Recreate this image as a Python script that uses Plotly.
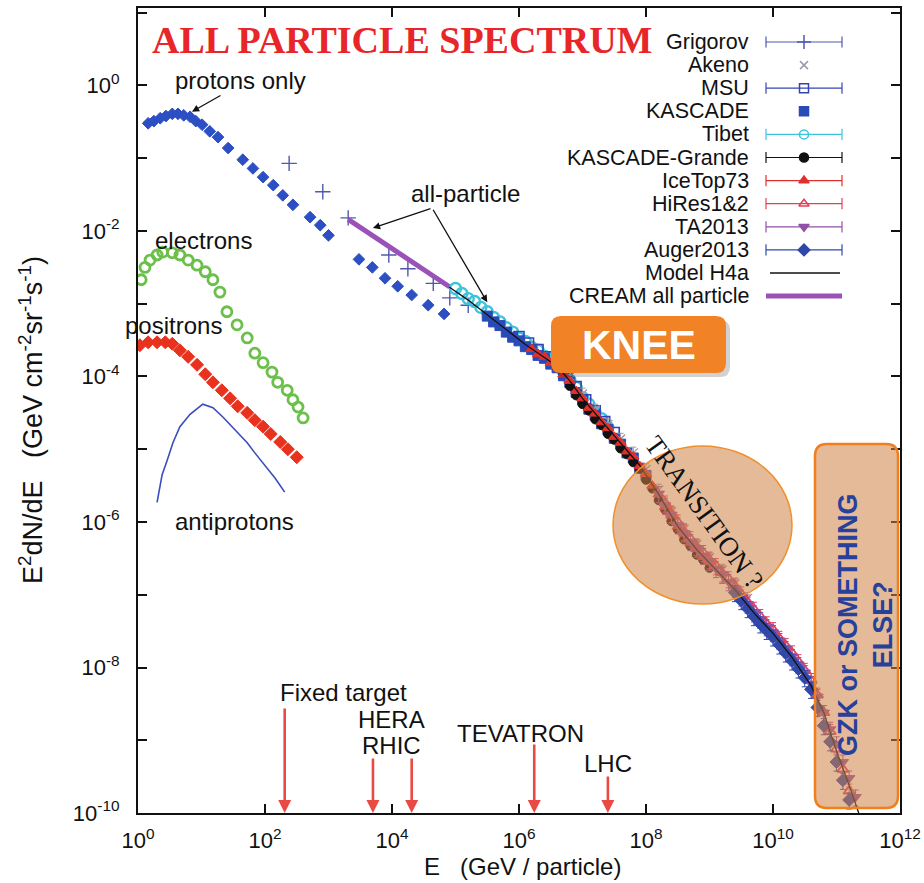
import numpy as np
import plotly.graph_objects as go

# ---------------------------------------------------------------------------
# Spectra, stored as log10(E / GeV) and log10(E^2 dN/dE / GeV cm^-2 sr^-1 s^-1)
# ---------------------------------------------------------------------------
proton_logE = [0.16, 0.25, 0.35, 0.44, 0.54, 0.63, 0.72, 0.82, 0.91, 1.01, 1.13, 1.26,
               1.42, 1.65, 1.81, 1.97, 2.13, 2.28, 2.44, 2.71, 2.87, 3.00, 3.48, 3.69,
               3.89, 4.09, 4.31, 4.57, 4.82]
proton_logF = [-0.52, -0.49, -0.45, -0.42, -0.39, -0.39, -0.41, -0.43, -0.49, -0.54, -0.63, -0.71,
               -0.86, -1.02, -1.14, -1.26, -1.37, -1.51, -1.64, -1.81, -1.92, -2.06, -2.39, -2.50,
               -2.65, -2.76, -2.88, -3.02, -3.14]

electron_logE = [0.05, 0.11, 0.19, 0.30, 0.39, 0.54, 0.66, 0.79, 0.93, 1.06, 1.18, 1.29,
                 1.40, 1.56, 1.72, 1.84, 1.97, 2.11, 2.20, 2.35, 2.44, 2.52, 2.60]
electron_logF = [-2.67, -2.50, -2.40, -2.33, -2.29, -2.30, -2.33, -2.40, -2.47, -2.56, -2.67, -2.84,
                 -3.11, -3.29, -3.47, -3.68, -3.81, -3.94, -4.08, -4.19, -4.32, -4.42, -4.57]

positron_logE = [0.03, 0.16, 0.30, 0.43, 0.54, 0.66, 0.79, 0.93, 1.06, 1.18, 1.32, 1.45,
                 1.57, 1.72, 1.84, 1.97, 2.09, 2.24, 2.36, 2.50]
positron_logF = [-3.57, -3.53, -3.53, -3.53, -3.55, -3.64, -3.73, -3.84, -3.97, -4.08, -4.19, -4.30,
                 -4.41, -4.50, -4.60, -4.69, -4.79, -4.90, -5.00, -5.11]

antiproton_logE = [0.30, 0.38, 0.46, 0.55, 0.66, 0.82, 1.02, 1.18, 1.34, 1.53, 1.72, 1.84,
                   1.97, 2.16, 2.31]
antiproton_logF = [-5.73, -5.35, -5.15, -4.91, -4.69, -4.52, -4.38, -4.43, -4.56, -4.74, -4.91, -5.05,
                   -5.19, -5.40, -5.59]

grigorov_logE = [2.38, 2.91, 3.31, 3.95, 4.25, 4.65, 4.91, 5.20]
grigorov_logF = [-1.07, -1.46, -1.82, -2.33, -2.52, -2.72, -2.92, -3.02]

cream_logE = [3.31, 3.60, 3.90, 4.20, 4.50, 4.91]
cream_logF = [-1.84, -2.01, -2.18, -2.36, -2.53, -2.77]

tibet_logE = [5.0, 5.1, 5.2, 5.3, 5.4, 5.5, 5.6, 5.7, 5.8, 5.9, 6.0, 6.1, 6.2, 6.3, 6.4,
              6.5, 6.6, 6.7, 6.8, 6.9, 7.0, 7.1, 7.2, 7.3, 7.4]
tibet_logF = [-2.79, -2.86, -2.93, -2.97, -3.05, -3.11, -3.19, -3.25, -3.33, -3.39, -3.47, -3.52,
              -3.60, -3.64, -3.72, -3.76, -3.85, -3.92, -4.05, -4.15, -4.29, -4.38, -4.50, -4.58, -4.70]

kascade_logE = [5.5, 5.6, 5.7, 5.8, 5.9, 6.0, 6.1, 6.2, 6.3, 6.4, 6.5, 6.6, 6.7, 6.8, 6.9,
                7.0, 7.1, 7.2, 7.3, 7.4, 7.5, 7.6, 7.7, 7.8, 7.9, 8.0]
kascade_logF = [-3.17, -3.25, -3.30, -3.39, -3.46, -3.51, -3.59, -3.63, -3.71, -3.75, -3.83, -3.88,
                -3.99, -4.08, -4.22, -4.32, -4.45, -4.53, -4.65, -4.73, -4.85, -4.93, -5.05, -5.12,
                -5.26, -5.36]

msu_logE = [6.0, 6.15, 6.3, 6.45, 6.6, 6.75, 6.9, 7.05, 7.2, 7.35, 7.5]
msu_logF = [-3.45, -3.54, -3.63, -3.73, -3.82, -3.97, -4.14, -4.32, -4.47, -4.62, -4.77]

akeno_logE = [6.6, 6.8, 7.0, 7.2, 7.4, 7.6, 7.8, 8.0, 8.2, 8.4, 8.6, 8.8, 9.0, 9.2, 9.4, 9.6]
akeno_logF = [-3.80, -4.00, -4.24, -4.46, -4.66, -4.86, -5.05, -5.28, -5.56, -5.86, -6.10, -6.31,
              -6.49, -6.66, -6.85, -7.05]

grande_logE = [6.8, 6.9, 7.0, 7.1, 7.2, 7.3, 7.4, 7.5, 7.6, 7.7, 7.8, 7.9, 8.0, 8.1, 8.2,
               8.3, 8.4, 8.5, 8.6, 8.7, 8.8, 8.9, 9.0]
grande_logF = [-4.13, -4.26, -4.38, -4.47, -4.59, -4.67, -4.79, -4.87, -4.99, -5.07, -5.18, -5.27,
               -5.42, -5.54, -5.70, -5.83, -5.99, -6.10, -6.24, -6.33, -6.45, -6.52, -6.63]

icetop_logE = [6.2, 6.3, 6.4, 6.5, 6.6, 6.7, 6.8, 6.9, 7.0, 7.1, 7.2, 7.3, 7.4, 7.5, 7.6,
               7.7, 7.8, 7.9, 8.0, 8.1, 8.2, 8.3, 8.4, 8.5, 8.6, 8.7, 8.8, 8.9, 9.0]
icetop_logF = [-3.62, -3.69, -3.73, -3.81, -3.86, -3.97, -4.06, -4.20, -4.30, -4.43, -4.51, -4.63,
               -4.71, -4.83, -4.91, -5.03, -5.10, -5.23, -5.34, -5.50, -5.62, -5.79, -5.91, -6.06,
               -6.16, -6.29, -6.37, -6.48, -6.55]

hires_logE = [8.3, 8.4, 8.5, 8.6, 8.7, 8.8, 8.9, 9.0, 9.1, 9.2, 9.3, 9.4, 9.5, 9.6, 9.7,
              9.8, 9.9, 10.0, 10.1, 10.2, 10.3, 10.4, 10.5, 10.6, 10.7, 10.8, 10.9, 11.0, 11.1, 11.2]
hires_logF = [-5.74, -5.88, -6.00, -6.13, -6.23, -6.34, -6.42, -6.52, -6.60, -6.70, -6.78, -6.88,
              -6.99, -7.10, -7.20, -7.30, -7.40, -7.48, -7.60, -7.70, -7.80, -7.92, -8.04, -8.18,
              -8.38, -8.62, -8.88, -9.12, -9.40, -9.70]

ta_logE = [8.2, 8.3, 8.4, 8.5, 8.6, 8.7, 8.8, 8.9, 9.0, 9.1, 9.2, 9.3, 9.4, 9.5, 9.6, 9.7,
           9.8, 9.9, 10.0, 10.1, 10.2, 10.3, 10.4, 10.5, 10.6, 10.7, 10.8, 10.9, 11.0, 11.1, 11.2, 11.3]
ta_logF = [-5.61, -5.77, -5.90, -6.04, -6.15, -6.27, -6.36, -6.46, -6.54, -6.64, -6.72, -6.82,
           -6.91, -7.03, -7.13, -7.25, -7.34, -7.44, -7.52, -7.63, -7.74, -7.85, -7.96, -8.07,
           -8.22, -8.40, -8.62, -8.85, -9.05, -9.30, -9.52, -9.78]

auger_logE = [9.4, 9.5, 9.6, 9.7, 9.8, 9.9, 10.0, 10.1, 10.2, 10.3, 10.4, 10.5, 10.6, 10.7,
              10.8, 10.9, 11.0, 11.1, 11.2]
auger_logF = [-6.97, -7.08, -7.19, -7.30, -7.40, -7.49, -7.58, -7.69, -7.80, -7.91, -8.02, -8.14,
              -8.30, -8.55, -8.80, -9.02, -9.30, -9.55, -9.82]

h4a_logE = [4.9, 5.2, 5.5, 5.8, 6.1, 6.4, 6.6, 6.8, 7.0, 7.3, 7.6, 7.9, 8.2, 8.5, 8.8, 9.1,
            9.4, 9.7, 10.0, 10.3, 10.6, 10.8, 11.0, 11.2, 11.35]
h4a_logF = [-2.77, -2.95, -3.15, -3.36, -3.56, -3.74, -3.86, -4.06, -4.30, -4.61, -4.92, -5.22,
            -5.62, -6.06, -6.38, -6.65, -6.93, -7.25, -7.53, -7.86, -8.25, -8.62, -9.15, -9.62, -10.0]

# Accelerator reach (equivalent fixed-target energy)
accel_names = ["Fixed target", "HERA", "RHIC", "TEVATRON", "LHC"]
accel_logE = [2.31, 3.70, 4.31, 6.24, 7.40]

legend_names = ["Grigorov", "Akeno", "MSU", "KASCADE", "Tibet", "KASCADE-Grande",
                "IceTop73", "HiRes1&2", "TA2013", "Auger2013", "Model H4a", "CREAM all particle"]

x_tick_exp = [0, 2, 4, 6, 8, 10, 12]
y_tick_exp = list(range(-10, 2))

# ---------------------------------------------------------------------------
W, H = 924, 883
ML, MR, MT, MB = 138, 24, 8, 70
PW, PH = W - ML - MR, H - MT - MB


def px(x):
    return (x - ML) / PW


def py(y):
    return (H - MB - y) / PH


def pw(v):
    return 10 ** np.asarray(v, dtype=float)


FONT = "Liberation Sans, Arial, Helvetica, sans-serif"
SERIF = "Liberation Serif, Times New Roman, serif"

fig = go.Figure()


def add_series(logE, logF, color, symbol, size, lw=1.0, err=None, opacity=1.0):
    e = None
    if err is not None:
        e = dict(type="percent", value=err, color=color, thickness=1.0, width=3)
    fig.add_trace(go.Scatter(
        x=pw(logE), y=pw(logF), mode="markers", showlegend=False, error_y=e,
        opacity=opacity, cliponaxis=True,
        marker=dict(symbol=symbol, size=size, color=color, line=dict(width=lw, color=color))))


# low-energy species
add_series(proton_logE, proton_logF, "#2c4fc4", "diamond", 9)
add_series(electron_logE, electron_logF, "#6cc04a", "circle-open", 10, lw=2.8)
add_series(positron_logE, positron_logF, "#e8321e", "diamond", 10)
fig.add_trace(go.Scatter(x=pw(antiproton_logE), y=pw(antiproton_logF), mode="lines",
                         showlegend=False, line=dict(color="#3a4cc0", width=1.6)))

# all-particle data
add_series(grigorov_logE, grigorov_logF, "#5058b0", "cross-thin-open", 11, lw=1.4)
fig.add_trace(go.Scatter(x=pw(cream_logE), y=pw(cream_logF), mode="lines", showlegend=False,
                         line=dict(color="#9a52b8", width=5)))
add_series(tibet_logE, tibet_logF, "#3cc4dc", "circle-open", 11, lw=2.4)
add_series(kascade_logE, kascade_logF, "#2a4bb5", "square", 10)
add_series(msu_logE, msu_logF, "#3444b4", "square-open", 10, lw=1.6)
add_series(akeno_logE, akeno_logF, "#9a9aa8", "x-thin-open", 9, lw=1.4, err=20)
add_series(grande_logE, grande_logF, "#111111", "circle", 9)
add_series(icetop_logE, icetop_logF, "#e0302c", "triangle-up", 10)
add_series(hires_logE, hires_logF, "#e2405a", "triangle-up-open", 10, lw=1.8, err=25)
add_series(ta_logE, ta_logF, "#9050a8", "triangle-down", 10, err=25)
add_series(auger_logE, auger_logF, "#3048a8", "diamond", 10, err=25)
fig.add_trace(go.Scatter(x=pw(h4a_logE), y=pw(h4a_logF), mode="lines", showlegend=False,
                         line=dict(color="#111111", width=1.3)))

# ---------------------------------------------------------------------------
# Legend drawn in the upper right corner: right-aligned names, samples to the right
legend_style = {
    "Grigorov": dict(color="#5058b0", symbol="cross-thin-open", size=10, bar=True),
    "Akeno": dict(color="#9a9aa8", symbol="x-thin-open", size=8, bar=False),
    "MSU": dict(color="#3444b4", symbol="square-open", size=9, bar=True),
    "KASCADE": dict(color="#2a4bb5", symbol="square", size=9, bar=False),
    "Tibet": dict(color="#3cc4dc", symbol="circle-open", size=9, bar=True),
    "KASCADE-Grande": dict(color="#111111", symbol="circle", size=9, bar=True),
    "IceTop73": dict(color="#e0302c", symbol="triangle-up", size=9, bar=True),
    "HiRes1&2": dict(color="#e2405a", symbol="triangle-up-open", size=9, bar=True),
    "TA2013": dict(color="#9050a8", symbol="triangle-down", size=9, bar=True),
    "Auger2013": dict(color="#3048a8", symbol="diamond", size=9, bar=True),
}
row0, drow = 42, 23.1
lx0, lx1, lxc = px(766), px(842), px(804)
annotations = []
for i, name in enumerate(legend_names):
    yy = py(row0 + i * drow)
    annotations.append(dict(xref="paper", yref="paper", x=px(751), y=yy, xanchor="right",
                            yanchor="middle", text=name, showarrow=False,
                            font=dict(family=FONT, size=21.5, color="#111111")))
    if name == "Model H4a":
        fig.add_trace(go.Scatter(x=[px(770), px(840)], y=[yy, yy], xaxis="x2", yaxis="y2",
                                 mode="lines", line=dict(color="#111111", width=1.3),
                                 showlegend=False, hoverinfo="skip"))
        continue
    if name == "CREAM all particle":
        fig.add_trace(go.Scatter(x=[lx0, lx1], y=[yy, yy], xaxis="x2", yaxis="y2",
                                 mode="lines", line=dict(color="#9a52b8", width=5),
                                 showlegend=False, hoverinfo="skip"))
        continue
    st = legend_style[name]
    if st["bar"]:
        fig.add_trace(go.Scatter(x=[lx0, lx1], y=[yy, yy], xaxis="x2", yaxis="y2",
                                 mode="lines+markers", line=dict(color=st["color"], width=1.2),
                                 marker=dict(symbol="line-ns-open", size=8,
                                             line=dict(color=st["color"], width=1.2)),
                                 showlegend=False, hoverinfo="skip"))
    fig.add_trace(go.Scatter(x=[lxc], y=[yy], xaxis="x2", yaxis="y2", mode="markers",
                             marker=dict(symbol=st["symbol"], size=st["size"], color=st["color"],
                                         line=dict(color=st["color"], width=1.5)),
                             showlegend=False, hoverinfo="skip"))

# ---------------------------------------------------------------------------
# Text labels and arrows
def label(x, y, text, size=24, anchor="center", color="#111111", fam=FONT, angle=0):
    annotations.append(dict(xref="paper", yref="paper", x=px(x), y=py(y), text=text,
                            xanchor=anchor, yanchor="middle", showarrow=False, textangle=angle,
                            font=dict(family=fam, size=size, color=color)))


label(150, 40, "<b>ALL PARTICLE SPECTRUM</b>", size=38, anchor="left", color="#e8262a", fam=SERIF)
label(240, 80, "protons only")
label(465, 193, "all-particle")
label(203, 241, "electrons")
label(173, 325, "positrons")
label(234, 521, "antiprotons")

# arrows pointing at the spectra
annotations.append(dict(x=0.85, y=-0.36, xref="x", yref="y", ax=30, ay=-17, text="",
                        showarrow=True, arrowhead=2, arrowsize=1.1, arrowwidth=1.3,
                        arrowcolor="#111111"))
annotations.append(dict(x=3.70, y=-1.96, xref="x", yref="y", ax=59, ay=-20, text="",
                        showarrow=True, arrowhead=2, arrowsize=1.1, arrowwidth=1.3,
                        arrowcolor="#111111"))
annotations.append(dict(x=5.50, y=-2.98, xref="x", yref="y", ax=-55, ay=-94, text="",
                        showarrow=True, arrowhead=2, arrowsize=1.1, arrowwidth=1.3,
                        arrowcolor="#111111"))

# accelerator markers along the energy axis
accel_tail = {"Fixed target": -106, "HERA": -56, "RHIC": -56, "TEVATRON": -70, "LHC": -38}
for name, le in zip(accel_names, accel_logE):
    annotations.append(dict(x=le, y=-10, xref="x", yref="y", ax=0, ay=accel_tail[name], text="",
                            showarrow=True, arrowhead=2, arrowsize=1.0, arrowwidth=2.6,
                            arrowcolor="#ea4a44"))
label(278, 692, "Fixed target", anchor="left")
label(391, 719, "HERA")
label(391, 745, "RHIC")
label(520, 733, "TEVATRON")
label(608, 763, "LHC")

# highlighted regions
label(639, 345, "<b>KNEE</b>", size=41, color="#ffffff")
label(704, 512, "TRANSITION ?", size=27, color="#111111", fam=SERIF, angle=54)
annotations.append(dict(xref="paper", yref="paper", x=px(865), y=py(625),
                        text="<b>GZK or SOMETHING<br>ELSE?</b>", showarrow=False,
                        textangle=-90, xanchor="center", yanchor="middle", align="center",
                        font=dict(family=FONT, size=27, color="#27409a")))

# axis titles
label(31, 420, "E<sup>2</sup>dN/dE\u00a0\u00a0\u00a0(GeV cm<sup>-2</sup>sr<sup>-1</sup>s<sup>-1</sup>)",
      size=27, angle=-90)
label(522, 866, "E\u00a0\u00a0\u00a0(GeV / particle)", size=24)


def rrect(x0, y0, x1, y1, r):
    """Rounded rectangle path in paper units from pixel corners."""
    rx, ry = r / PW, r / PH
    a, b, c, d = px(x0), px(x1), py(y1), py(y0)  # left, right, bottom, top
    return (f"M {a + rx} {d} L {b - rx} {d} Q {b} {d} {b} {d - ry} "
            f"L {b} {c + ry} Q {b} {c} {b - rx} {c} L {a + rx} {c} "
            f"Q {a} {c} {a} {c + ry} L {a} {d - ry} Q {a} {d} {a + rx} {d} Z")


shapes = [
    # knee badge with soft shadow
    dict(type="path", xref="paper", yref="paper", path=rrect(555, 320, 730, 377, 10),
         fillcolor="rgba(0,0,0,0.18)", line=dict(width=0), layer="above"),
    dict(type="path", xref="paper", yref="paper", path=rrect(551, 316, 726, 373, 10),
         fillcolor="#f28226", line=dict(width=0), layer="above"),
    # transition region
    dict(type="circle", xref="paper", yref="paper", x0=px(613), x1=px(792), y0=py(604), y1=py(446),
         fillcolor="rgba(205,130,70,0.55)", line=dict(color="#f0902c", width=1.5), layer="above"),
    # end of the spectrum
    dict(type="path", xref="paper", yref="paper", path=rrect(815, 444, 898, 808, 12),
         fillcolor="rgba(205,130,70,0.55)", line=dict(color="#f07f1c", width=2.5), layer="above"),
]

axis_font = dict(family=FONT, size=22, color="#111111")
fig.update_layout(
    width=W, height=H, margin=dict(l=ML, r=MR, t=MT, b=MB, autoexpand=False),
    paper_bgcolor="white", plot_bgcolor="white",
    xaxis=dict(type="log", range=[0, 12], showgrid=False, zeroline=False,
               tickvals=[10.0 ** k for k in x_tick_exp],
               ticktext=[f"10<sup>{k}</sup>" for k in x_tick_exp],
               ticks="inside", ticklen=9, tickwidth=1.5, tickcolor="#111111",
               showline=True, linecolor="#111111", linewidth=2, mirror="ticks",
               tickfont=axis_font, ticklabelstandoff=7),
    yaxis=dict(type="log", range=[-10, 1.065], showgrid=False, zeroline=False,
               tickvals=[10.0 ** k for k in y_tick_exp],
               ticktext=[f"10<sup>{k}</sup>" if k % 2 == 0 else "" for k in y_tick_exp],
               ticks="inside", ticklen=9, tickwidth=1.5, tickcolor="#111111",
               showline=True, linecolor="#111111", linewidth=2, mirror="ticks",
               tickfont=axis_font, ticklabelstandoff=12),
    xaxis2=dict(overlaying="x", range=[0, 1], visible=False, fixedrange=True),
    yaxis2=dict(overlaying="y", range=[0, 1], visible=False, fixedrange=True),
    annotations=annotations, shapes=shapes, showlegend=False,
)

fig.write_html("out.html")
